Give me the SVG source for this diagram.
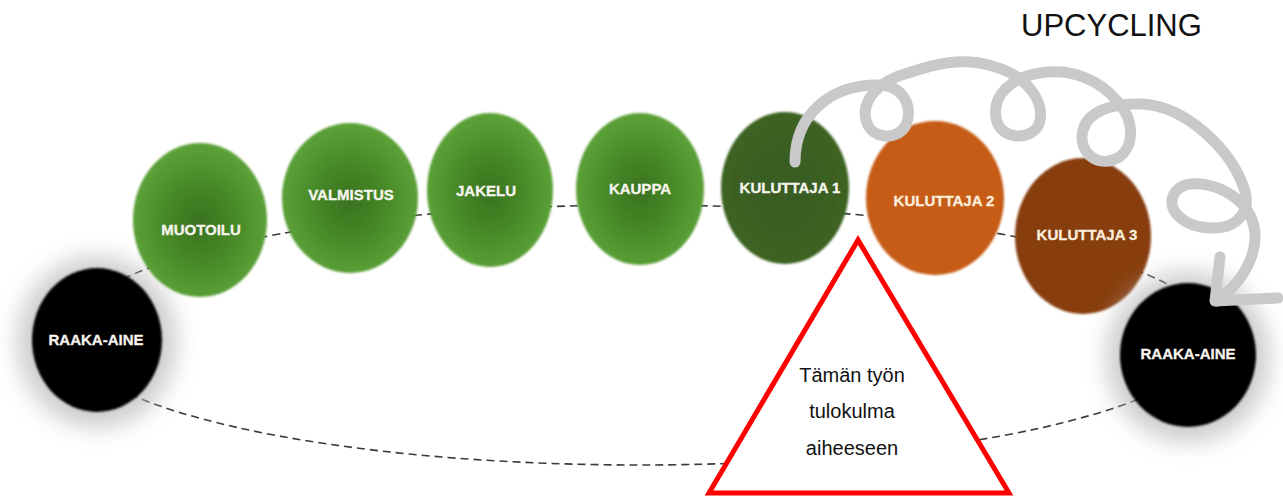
<svg xmlns="http://www.w3.org/2000/svg" width="1283" height="497" viewBox="0 0 1283 497">
<style>
.lbl{font-family:"Liberation Sans",Arial,sans-serif;font-weight:bold;font-size:15px;fill:#f7f5ee;text-anchor:middle;stroke:#f7f5ee;stroke-width:0.3}
.dash{fill:none;stroke:#3a3a3a;stroke-width:1.6;stroke-dasharray:8 5}
.spiral{fill:none;stroke:#c9c9c9;stroke-width:11;stroke-linecap:round;stroke-linejoin:round}
.tri{font-family:"Liberation Sans",Arial,sans-serif;font-size:20px;fill:#111;text-anchor:middle}
</style>
<defs>
<radialGradient id="green" cx="50%" cy="52%" r="55%">
<stop offset="0" stop-color="#3a711f"/>
<stop offset="0.45" stop-color="#468827"/>
<stop offset="1" stop-color="#5fa53a"/>
</radialGradient>
<radialGradient id="dkgreen" cx="50%" cy="50%" r="55%">
<stop offset="0" stop-color="#375a20"/>
<stop offset="1" stop-color="#3e6425"/>
</radialGradient>
<filter id="soft" x="-10%" y="-10%" width="120%" height="120%"><feGaussianBlur stdDeviation="1.2"/></filter>
<filter id="glow" x="-50%" y="-50%" width="200%" height="200%"><feGaussianBlur stdDeviation="11"/></filter>
</defs>

<g id="connectors">
<ellipse class="dash" cx="640" cy="335" rx="573" ry="130"/>
</g>

<g id="raaka-aine-left">
<ellipse cx="97" cy="342" rx="80" ry="86" fill="#b4b4b4" opacity="0.65" filter="url(#glow)"/>
<ellipse cx="97" cy="340" rx="65" ry="72" fill="#000" filter="url(#soft)"/>
<text class="lbl" x="96" y="345">RAAKA-AINE</text>
</g>
<g id="muotoilu">
<ellipse cx="200" cy="220" rx="67" ry="77" fill="url(#green)" filter="url(#soft)"/>
<text class="lbl" x="201" y="235">MUOTOILU</text>
</g>
<g id="valmistus">
<ellipse cx="350" cy="198" rx="68" ry="75" fill="url(#green)" filter="url(#soft)"/>
<text class="lbl" x="351" y="200">VALMISTUS</text>
</g>
<g id="jakelu">
<ellipse cx="490" cy="190" rx="63" ry="77" fill="url(#green)" filter="url(#soft)"/>
<text class="lbl" x="486" y="196">JAKELU</text>
</g>
<g id="kauppa">
<ellipse cx="640" cy="189" rx="64" ry="76" fill="url(#green)" filter="url(#soft)"/>
<text class="lbl" x="640" y="194">KAUPPA</text>
</g>
<g id="kuluttaja-1">
<ellipse cx="785" cy="188" rx="64" ry="76" fill="url(#dkgreen)" filter="url(#soft)"/>
<text class="lbl" x="790" y="193">KULUTTAJA 1</text>
</g>
<g id="kuluttaja-2">
<ellipse cx="935" cy="198" rx="69" ry="77" fill="#c65b12" filter="url(#soft)"/>
<text class="lbl" x="944" y="206" style="fill:#fbeedd;stroke:#fbeedd">KULUTTAJA 2</text>
</g>
<g id="kuluttaja-3">
<ellipse cx="1083" cy="236" rx="68" ry="78" fill="#873c0d" filter="url(#soft)"/>
<text class="lbl" x="1087" y="240" style="fill:#fbeedd;stroke:#fbeedd">KULUTTAJA 3</text>
</g>
<g id="raaka-aine-right">
<ellipse cx="1188" cy="357" rx="82" ry="86" fill="#b4b4b4" opacity="0.65" filter="url(#glow)"/>
<ellipse cx="1188" cy="355" rx="68" ry="72" fill="#000" filter="url(#soft)"/>
<text class="lbl" x="1188" y="359">RAAKA-AINE</text>
</g>

<g id="upcycling">
<path class="spiral" d="M 795,162 C 795,115 830,85 877,85 C 905,85 913,108 906,125 C 898,141 871,140 866,120 C 861,100 880,80 908,73 C 935,64 962,57 992,66 C 1030,76 1046,105 1039,124 C 1032,141 1000,141 996,118 C 992,95 1012,77 1040,73 C 1072,68 1100,80 1118,102 C 1136,122 1135,152 1113,160 C 1094,166 1078,150 1083,130 C 1088,112 1110,103 1142,104 C 1185,106 1230,148 1244,188 C 1252,210 1238,228 1214,228 C 1182,228 1162,207 1177,190 C 1193,175 1236,188 1250,215 C 1263,242 1250,276 1217,301"/>
<path class="spiral" d="M 1220,257 L 1215,301 L 1278,298"/>
<text x="1021" y="36" style="font-family:'Liberation Sans',Arial,sans-serif;font-size:31px;fill:#111">UPCYCLING</text>
</g>

<g id="viewpoint">
<polygon points="858,240 709,493 1009,493" fill="#fff" stroke="#f00" stroke-width="5" stroke-linejoin="miter"/>
<text class="tri" x="852" y="382">Tämän työn</text>
<text class="tri" x="852" y="418">tulokulma</text>
<text class="tri" x="852" y="455">aiheeseen</text>
</g>
</svg>
